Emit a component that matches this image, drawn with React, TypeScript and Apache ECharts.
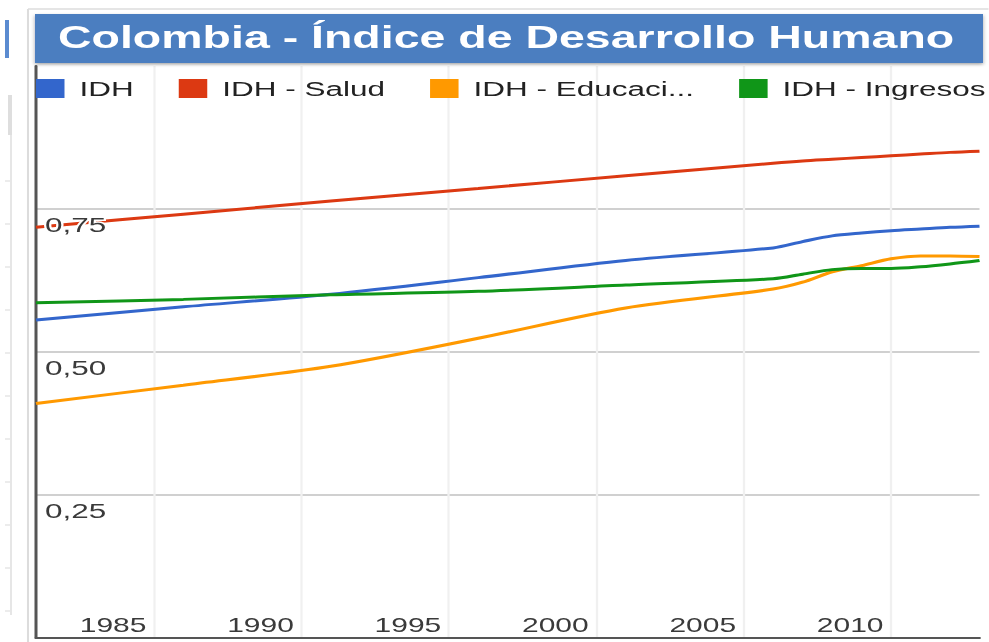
import React, { useEffect, useRef } from "react";
import * as echarts from "echarts";

// ---- data ----
const years = [1981, 1986, 1991, 1996, 2001, 2006, 2007, 2008, 2009, 2010, 2011, 2012, 2013];
const idh = [0.556, 0.579, 0.601, 0.63, 0.66, 0.682, 0.693, 0.703, 0.708, 0.712, 0.715, 0.718, 0.72];
const salud = [0.718, 0.741, 0.764, 0.786, 0.808, 0.83, 0.834, 0.837, 0.84, 0.843, 0.846, 0.849, 0.851];
const educacion = [0.41, 0.442, 0.475, 0.524, 0.577, 0.61, 0.622, 0.64, 0.651, 0.663, 0.668, 0.668, 0.667];
const ingresos = [0.586, 0.592, 0.6, 0.606, 0.617, 0.628, 0.636, 0.644, 0.646, 0.646, 0.649, 0.654, 0.66];

const seriesNames = ["IDH", "IDH - Salud", "IDH - Educación", "IDH - Ingresos"];
const legendLabels = ["IDH", "IDH - Salud", "IDH - Educaci...", "IDH - Ingresos"];
const seriesColors = ["#3366cc", "#dc3912", "#ff9900", "#109618"];
const yTicks = [0, 0.25, 0.5, 0.75, 1];
const titleText = "Colombia - Índice de Desarrollo Humano";

// horizontal stretch of the reference screenshot
const K = 1.5;
const W = 989 / K;
const H = 642;
const sx = (x: number) => x / K;
const FONT = '"Liberation Sans", Arial, sans-serif';

const rulerTicks = [181, 224, 267, 310, 353, 396, 439, 482, 525, 568, 611];

export default function App() {
  const ref = useRef<HTMLDivElement>(null);

  useEffect(() => {
    if (!ref.current) return;
    const chart = echarts.init(ref.current, null, { renderer: "svg" });
    const allSeries = [idh, salud, educacion, ingresos];

    const graphics: any[] = [
      // outer frame of the screenshot
      { type: "line", shape: { x1: sx(28), y1: 9, x2: sx(28), y2: H }, style: { stroke: "#dcdcdc", lineWidth: 1.4 }, silent: true },
      { type: "line", shape: { x1: sx(28), y1: 9, x2: W, y2: 9 }, style: { stroke: "#dcdcdc", lineWidth: 1.5 }, silent: true },
      { type: "rect", shape: { x: sx(5), y: 20, width: sx(4), height: 38 }, style: { fill: "#5b8bd0" }, silent: true },
      { type: "rect", shape: { x: sx(8), y: 95, width: sx(4), height: 40 }, style: { fill: "#dedede" }, silent: true },
      { type: "line", shape: { x1: sx(11), y1: 135, x2: sx(11), y2: 615 }, style: { stroke: "#e4e4e4", lineWidth: 1.2 }, silent: true },
      ...rulerTicks.map((y) => ({
        type: "line",
        shape: { x1: sx(5), y1: y, x2: sx(10), y2: y },
        style: { stroke: "#d8d8d8", lineWidth: 1 },
        silent: true,
      })),
      // title bar
      {
        type: "rect",
        z: 20,
        shape: { x: sx(35), y: 14, width: sx(983 - 35), height: 49 },
        style: { fill: "#4c7ec0", shadowBlur: 3, shadowColor: "rgba(0,0,0,0.35)", shadowOffsetY: 1.5 },
        silent: true,
      },
      {
        type: "text",
        z: 21,
        x: sx(58),
        y: 37.5,
        style: {
          text: titleText,
          fill: "#ffffff",
          font: `bold 31px ${FONT}`,
          verticalAlign: "middle",
          align: "left",
        },
        silent: true,
      },
    ];

    chart.setOption({
      animation: false,
      backgroundColor: "#ffffff",
      textStyle: { fontFamily: FONT },
      color: seriesColors,
      graphic: graphics,
      legend: {
        left: sx(36),
        top: 78,
        padding: 0,
        width: 645,
        itemWidth: 19,
        itemHeight: 19,
        itemGap: 30,
        icon: "rect",
        data: seriesNames,
        formatter: (name: string) => legendLabels[seriesNames.indexOf(name)] ?? name,
        textStyle: { fontSize: 21, color: "#222222", fontFamily: FONT, padding: [0, 0, 0, 5] },
        z: 15,
      },
      grid: {
        left: sx(36),
        right: W - sx(980),
        top: 66,
        bottom: H - 638,
        containLabel: false,
      },
      xAxis: {
        type: "value",
        min: years[0],
        max: years[years.length - 1],
        splitNumber: 6,
        axisLine: { show: true, lineStyle: { color: "#555555", width: 2 } },
        axisTick: { show: false },
        splitLine: {
          show: true,
          showMinLine: false,
          showMaxLine: false,
          lineStyle: { color: "#f0f0f0", width: 1.5 },
        },
        axisLabel: {
          inside: true,
          showMinLabel: false,
          showMaxLabel: false,
          align: "right",
          verticalAlign: "bottom",
          margin: 3,
          padding: [0, 5, 0, 0],
          fontSize: 20,
          color: "#3a3a3a",
          fontFamily: FONT,
          formatter: (v: number) => String(v),
        },
      },
      yAxis: [
        {
          type: "value",
          min: yTicks[0],
          max: yTicks[yTicks.length - 1],
          interval: 0.25,
          position: "left",
          axisLine: { show: true, lineStyle: { color: "#555555", width: 2 } },
          axisTick: { show: false },
          axisLabel: { show: false },
          splitLine: {
            show: true,
            showMinLine: false,
            showMaxLine: false,
            lineStyle: { color: "#d0d0d0", width: 2 },
          },
        },
        {
          type: "value",
          min: yTicks[0],
          max: yTicks[yTicks.length - 1],
          interval: 0.25,
          position: "left",
          z: 10,
          axisLine: { show: false },
          axisTick: { show: false },
          splitLine: { show: false },
          axisLabel: {
            inside: true,
            showMinLabel: false,
            showMaxLabel: false,
            margin: 6,
            verticalAlign: "top",
            padding: [5, 0, 0, 0],
            fontSize: 21,
            color: "#3a3a3a",
            fontFamily: FONT,
            textBorderColor: "#ffffff",
            textBorderWidth: 3,
            formatter: (v: number) => v.toFixed(2).replace(".", ","),
          },
        },
      ],
      series: seriesNames.map((name, i) => ({
        name,
        type: "line",
        yAxisIndex: 0,
        data: years.map((y, j) => [y, allSeries[i][j]]),
        showSymbol: false,
        smooth: 0.3,
        lineStyle: { width: 3, color: seriesColors[i] },
        itemStyle: { color: seriesColors[i] },
        z: 2,
      })),
    });

    return () => chart.dispose();
  }, []);

  return (
    <div
      ref={ref}
      style={{
        position: "fixed",
        left: 0,
        top: 0,
        width: W,
        height: H,
        transform: `scaleX(${K})`,
        transformOrigin: "0 0",
      }}
    />
  );
}
